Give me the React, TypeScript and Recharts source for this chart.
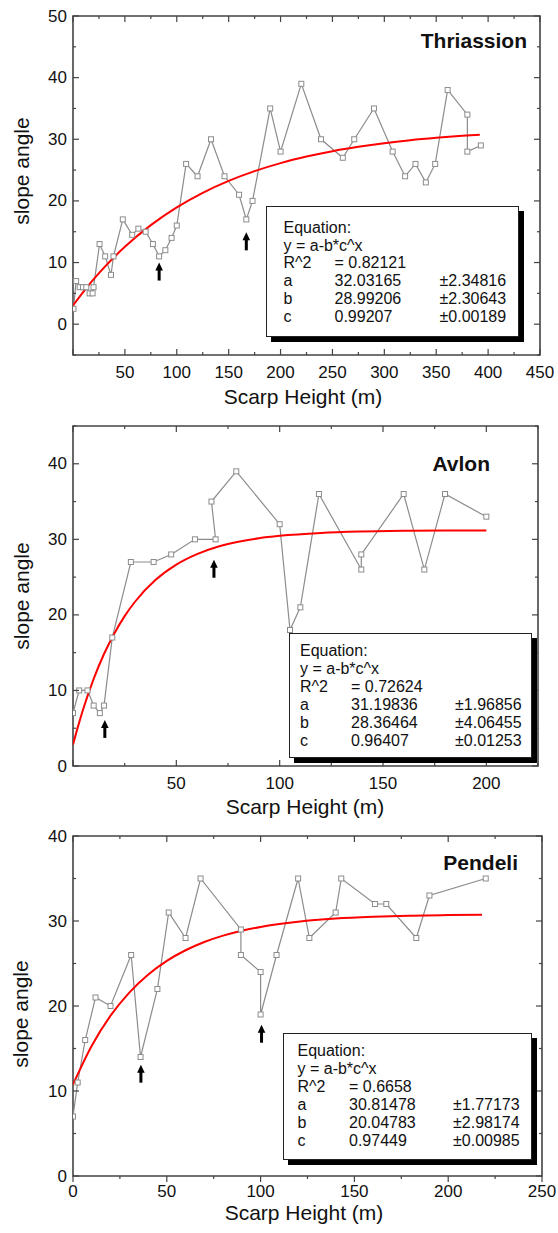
import React from "react";
import { ComposedChart, Line, XAxis, YAxis, ReferenceArea, ReferenceDot } from "recharts";

const FONT = '"Liberation Sans", Arial, Helvetica, sans-serif';
const PAGE_W = 558;
const FRAME = "#444";
const GREY = "#8c8c8c";

// ---- Thriassion ----
const thrX = [0.5, 3, 6.4, 9.6, 12.8, 16, 18.9, 19.8, 25.6, 31, 36.6, 39, 48, 57, 63, 70, 77, 83, 89, 95, 100, 109, 120, 133, 146, 160, 167, 173, 190, 200, 220, 239, 260, 271, 290, 308, 320, 330, 340, 349, 361, 380, 380, 393];
const thrY = [2.5, 7, 6, 6, 6, 5, 5, 6, 13, 11, 8, 11, 17, 14.5, 15.5, 15, 13, 11, 12, 14, 16, 26, 24, 30, 24, 21, 17, 20, 35, 28, 39, 30, 27, 30, 35, 28, 24, 26, 23, 26, 38, 34, 28, 29];
const thrFitX = [0, 10, 25, 50, 75, 100, 125, 150, 175, 200, 225, 250, 275, 300, 325, 350, 375, 392];
const thrFitY = [3.04, 5.26, 8.27, 12.56, 16.07, 18.95, 21.31, 23.25, 24.83, 26.13, 27.19, 28.07, 28.78, 29.37, 29.85, 30.24, 30.57, 30.75];
const thrArrowX = [83, 167];
const thrArrowY = [10.0, 14.9];
const thrXTicks = [0, 25, 50, 75, 100, 125, 150, 175, 200, 225, 250, 275, 300, 325, 350, 375, 400, 425, 450];
const thrXLabels = [50, 100, 150, 200, 250, 300, 350, 400, 450];
const thrYTicks = [-5, 0, 5, 10, 15, 20, 25, 30, 35, 40, 45, 50];
const thrYLabels = [0, 10, 20, 30, 40, 50];
const thrEq = [
  ["R^2", "= 0.82121", ""],
  ["a", "32.03165", "±2.34816"],
  ["b", "28.99206", "±2.30643"],
  ["c", "0.99207", "±0.00189"],
];

// ---- Avlon ----
const avlX = [0, 3, 7, 10, 13, 15, 19, 28, 39, 47.5, 59, 69, 67, 79, 100, 105, 110, 119, 139.5, 139.5, 160, 170, 180, 200];
const avlY = [7, 10, 10, 8, 7, 8, 17, 27, 27, 28, 30, 30, 35, 39, 32, 18, 21, 36, 26, 28, 36, 26, 36, 33];
const avlFitX = [0, 2.5, 5, 10, 15, 20, 25, 30, 40, 50, 60, 70, 80, 90, 100, 120, 140, 160, 180, 200];
const avlFitY = [2.83, 5.31, 7.58, 11.52, 14.82, 17.55, 19.84, 21.74, 24.64, 26.65, 28.04, 29.01, 29.68, 30.15, 30.47, 30.85, 31.03, 31.12, 31.16, 31.18];
const avlArrowX = [15.4, 68.2];
const avlArrowY = [6.1, 27.3];
const avlXTicks = [0, 25, 50, 75, 100, 125, 150, 175, 200, 225];
const avlXLabels = [50, 100, 150, 200];
const avlYTicks = [0, 5, 10, 15, 20, 25, 30, 35, 40, 45];
const avlYLabels = [0, 10, 20, 30, 40];
const avlEq = [
  ["R^2", "= 0.72624", ""],
  ["a", "31.19836", "±1.96856"],
  ["b", "28.36464", "±4.06455"],
  ["c", "0.96407", "±0.01253"],
];

// ---- Pendeli ----
const penX = [0, 2.5, 6.5, 12, 20, 31, 36, 45, 51, 60, 68, 89.5, 89.5, 100, 100, 108.5, 120, 126, 140, 143, 161, 167, 183, 190, 220];
const penY = [7, 11, 16, 21, 20, 26, 14, 22, 31, 28, 35, 29, 26, 24, 19, 26, 35, 28, 31, 35, 32, 32, 28, 33, 35];
const penFitX = [0, 10, 20, 30, 40, 50, 60, 70, 80, 90, 100, 120, 140, 160, 180, 200, 218];
const penFitY = [10.77, 15.33, 18.86, 21.58, 23.68, 25.31, 26.56, 27.53, 28.28, 28.86, 29.3, 29.91, 30.28, 30.49, 30.62, 30.7, 30.74];
const penArrowX = [36.2, 100.5];
const penArrowY = [13.1, 17.8];
const penXTicks = [0, 25, 50, 75, 100, 125, 150, 175, 200, 225, 250];
const penXLabels = [0, 50, 100, 150, 200, 250];
const penYTicks = [0, 5, 10, 15, 20, 25, 30, 35, 40];
const penYLabels = [0, 10, 20, 30, 40];
const penEq = [
  ["R^2", "= 0.6658", ""],
  ["a", "30.81478", "±1.77173"],
  ["b", "20.04783", "±2.98174"],
  ["c", "0.97449", "±0.00985"],
];

const zip = (xs: number[], ys: number[]) => xs.map((x, i) => ({ x, y: ys[i] }));

function squareDot(props: any) {
  const { cx, cy, index } = props;
  if (cx == null || cy == null) return <g key={`d${index}`} />;
  return (
    <rect key={`d${index}`} x={cx - 2.5} y={cy - 2.5} width={5} height={5} fill="#fff" stroke={GREY} strokeWidth={1} />
  );
}

function Arrow(props: any) {
  const { cx, cy } = props;
  return (
    <g>
      <path d={`M${cx},${cy} L${cx - 3.8},${cy + 8} L${cx + 3.8},${cy + 8} Z`} fill="#000" />
      <rect x={cx - 1.5} y={cy + 7} width={3} height={11} fill="#000" />
    </g>
  );
}

type PanelProps = {
  top: number;
  plot: { l: number; t: number; r: number; b: number };
  xDomain: [number, number];
  yDomain: [number, number];
  xTicks: number[];
  xLabels: number[];
  yTicks: number[];
  yLabels: number[];
  points: { x: number; y: number }[];
  fit: { x: number; y: number }[];
  arrows: { x: number; y: number }[];
  ticksOutBottom?: boolean;
  labelGap?: number;
};

function Panel(p: PanelProps) {
  const T = p.plot.t - p.top;
  const B = p.plot.b - p.top;
  const L = p.plot.l;
  const R = p.plot.r;
  const height = B + 30;
  const gap = p.labelGap ?? 17;

  const XTick = (t: any) => {
    const x = t.x;
    const v = t.payload.value;
    const len = v % 50 === 0 ? 6 : 3;
    return (
      <g>
        <line x1={x} x2={x} y1={B} y2={p.ticksOutBottom ? B + len : B - len} stroke={FRAME} strokeWidth={1.2} />
        <line x1={x} x2={x} y1={T} y2={T + len} stroke={FRAME} strokeWidth={1.2} />
        {p.xLabels.includes(v) && (
          <text x={x} y={B + gap} textAnchor="middle" dominantBaseline="central" fontSize={17} fill="#111" fontFamily={FONT}>
            {v}
          </text>
        )}
      </g>
    );
  };

  const YTick = (t: any) => {
    const y = t.y;
    const v = t.payload.value;
    const len = v % 10 === 0 ? 6 : 3;
    return (
      <g>
        <line x1={L} x2={L + len} y1={y} y2={y} stroke={FRAME} strokeWidth={1.2} />
        <line x1={R} x2={R - len} y1={y} y2={y} stroke={FRAME} strokeWidth={1.2} />
        {p.yLabels.includes(v) && (
          <text x={L - 6} y={y} textAnchor="end" dominantBaseline="central" fontSize={17} fill="#111" fontFamily={FONT}>
            {v}
          </text>
        )}
      </g>
    );
  };

  return (
    <div style={{ position: "absolute", left: 0, top: p.top }}>
      <ComposedChart width={PAGE_W} height={height} margin={{ top: T, right: PAGE_W - R, bottom: 0, left: 0 }}>
        <XAxis
          type="number"
          dataKey="x"
          domain={p.xDomain}
          ticks={p.xTicks}
          interval={0}
          allowDataOverflow
          axisLine={false}
          tickLine={false}
          tickSize={0}
          height={30}
          tick={XTick}
        />
        <YAxis
          type="number"
          dataKey="y"
          domain={p.yDomain}
          ticks={p.yTicks}
          interval={0}
          allowDataOverflow
          axisLine={false}
          tickLine={false}
          tickSize={0}
          width={L}
          tick={YTick}
        />
        <ReferenceArea
          x1={p.xDomain[0]}
          x2={p.xDomain[1]}
          y1={p.yDomain[0]}
          y2={p.yDomain[1]}
          fill="none"
          fillOpacity={0}
          stroke={FRAME}
          strokeWidth={1.6}
        />
        <Line
          data={p.points}
          dataKey="y"
          type="linear"
          stroke={GREY}
          strokeWidth={1.2}
          dot={squareDot}
          isAnimationActive={false}
        />
        <Line
          data={p.fit}
          dataKey="y"
          type="monotone"
          stroke="#ff0000"
          strokeWidth={2}
          dot={false}
          isAnimationActive={false}
        />
        {p.arrows.map((a, i) => (
          <ReferenceDot key={i} x={a.x} y={a.y} r={0} shape={Arrow} />
        ))}
      </ComposedChart>
    </div>
  );
}

function EqBox({ left, top, width, height, rowTop, rowStep, cols, rows }: any) {
  const lines: string[][] = [["Equation:"], ["y = a-b*c^x"], ...rows];
  return (
    <div
      style={{
        position: "absolute",
        left,
        top,
        width,
        height,
        boxSizing: "border-box",
        border: "1.5px solid #222",
        background: "#fff",
        boxShadow: "5px 5px 0 #000",
        fontFamily: FONT,
        fontSize: 16,
        color: "#111",
      }}
    >
      {lines.map((r, i) =>
        r.map((cell, j) => (
          <div
            key={`${i}-${j}`}
            style={{
              position: "absolute",
              left: cols[j],
              top: rowTop + i * rowStep - 9,
              lineHeight: "18px",
              whiteSpace: "nowrap",
            }}
          >
            {cell}
          </div>
        ))
      )}
    </div>
  );
}

const Text = ({ x, y, children, size = 21, bold = false, anchor = "center", rotate = false }: any) => (
  <div
    style={{
      position: "absolute",
      left: x,
      top: y,
      transform: `translate(${anchor === "right" ? "-100%" : "-50%"}, -50%)${rotate ? " rotate(-90deg)" : ""}`,
      transformOrigin: anchor === "right" ? "100% 50%" : "50% 50%",
      fontFamily: FONT,
      fontSize: size,
      lineHeight: `${size}px`,
      fontWeight: bold ? 700 : 400,
      color: "#111",
      whiteSpace: "nowrap",
    }}
  >
    {children}
  </div>
);

export default function App() {
  return (
    <div style={{ position: "absolute", left: 0, top: 0, width: PAGE_W, height: 1233, background: "#fff", overflow: "hidden" }}>
      <Panel
        top={0}
        plot={{ l: 73, t: 16, r: 540, b: 355 }}
        xDomain={[0, 450]}
        yDomain={[-5, 50]}
        xTicks={thrXTicks}
        xLabels={thrXLabels}
        yTicks={thrYTicks}
        yLabels={thrYLabels}
        points={zip(thrX, thrY)}
        fit={zip(thrFitX, thrFitY)}
        arrows={zip(thrArrowX, thrArrowY)}
      />
      <Panel
        top={400}
        plot={{ l: 73, t: 426, r: 538, b: 766 }}
        xDomain={[0, 225]}
        yDomain={[0, 45]}
        xTicks={avlXTicks}
        xLabels={avlXLabels}
        yTicks={avlYTicks}
        yLabels={avlYLabels}
        points={zip(avlX, avlY)}
        fit={zip(avlFitX, avlFitY)}
        arrows={zip(avlArrowX, avlArrowY)}
      />
      <Panel
        top={800}
        plot={{ l: 73, t: 836, r: 542, b: 1176 }}
        xDomain={[0, 250]}
        yDomain={[0, 40]}
        xTicks={penXTicks}
        xLabels={penXLabels}
        yTicks={penYTicks}
        yLabels={penYLabels}
        points={zip(penX, penY)}
        fit={zip(penFitX, penFitY)}
        arrows={zip(penArrowX, penArrowY)}
        ticksOutBottom
        labelGap={15}
      />

      <EqBox left={266} top={206} width={253} height={131} rowTop={21} rowStep={17.7} cols={[16.5, 67.5, 172.5]} rows={thrEq} />
      <EqBox left={289} top={633} width={243} height={125} rowTop={17} rowStep={18} cols={[10, 61, 165]} rows={avlEq} />
      <EqBox left={283} top={1033} width={249} height={127} rowTop={17} rowStep={18} cols={[13.5, 65, 169]} rows={penEq} />

      <Text x={527} y={40} bold anchor="right">Thriassion</Text>
      <Text x={490} y={463} bold anchor="right">Avlon</Text>
      <Text x={518} y={862} bold anchor="right">Pendeli</Text>

      <Text x={21} y={171} rotate>slope angle</Text>
      <Text x={21} y={596} rotate>slope angle</Text>
      <Text x={20} y={1014} rotate>slope angle</Text>

      <Text x={303} y={396}>Scarp Height (m)</Text>
      <Text x={305} y={806}>Scarp Height (m)</Text>
      <Text x={304} y={1212}>Scarp Height (m)</Text>
    </div>
  );
}
